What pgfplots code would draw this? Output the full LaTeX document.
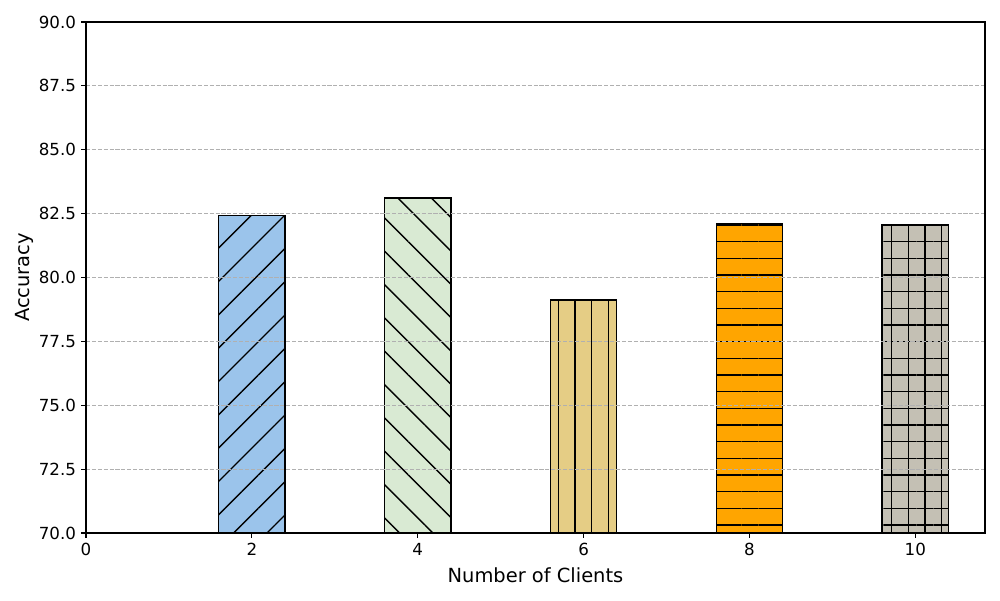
\documentclass[border=0pt]{standalone}
\usepackage{fontspec}
\setmainfont{DejaVu Sans}
\usepackage{pgfplots}
\pgfplotsset{compat=1.18}
\usetikzlibrary{patterns.meta}

\definecolor{cblue}{RGB}{155,196,235}
\definecolor{cgreen}{RGB}{217,234,211}
\definecolor{ctan}{RGB}{229,205,133}
\definecolor{corange}{RGB}{255,165,0}
\definecolor{cgrey}{RGB}{196,192,180}
\definecolor{cgrid}{HTML}{B0B0B0}

\begin{document}
\begin{tikzpicture}
\useasboundingbox (-61.92pt,-48.24pt) rectangle (658.08pt,383.76pt);
\begin{axis}[
  at={(0,0)}, anchor=south west,
  scale only axis, width=647.28pt, height=367.92pt,
  xmin=0, xmax=10.84, ymin=70, ymax=90,
  xtick={0,2,4,6,8,10},
  ytick={70,72.5,75,77.5,80,82.5,85,87.5,90},
  /pgf/number format/assume math mode=true,
  ymajorgrids,
  grid style={cgrid, line width=0.8pt, dash pattern=on 2.96pt off 1.28pt},
  axis on top,
  tick align=outside, tick pos=left,
  major tick length=3.5pt,
  every tick/.style={black, line width=0.8pt},
  axis line style={line width=0.8pt},
  tick label style={font=\fontsize{12}{14}\selectfont, inner sep=0pt},
  xticklabel style={yshift=-3.5pt},
  yticklabel style={xshift=-3.5pt, /pgf/number format/.cd, fixed, fixed zerofill, precision=1},
  xlabel={Number of Clients}, ylabel={Accuracy},
  every axis x label/.style={at={(axis description cs:0.5,0)}, anchor=center, yshift=-30.2pt, font=\fontsize{14}{17}\selectfont},
  every axis y label/.style={at={(axis description cs:0,0.5)}, xshift=-44.6pt, anchor=center, rotate=90, font=\fontsize{14}{17}\selectfont},
]
\addplot[ybar, bar width=0.8, bar shift=0, draw=black, line width=1pt, fill=cblue,
  postaction={pattern={Lines[angle=45,distance=16.97pt,line width=1pt]}, pattern color=black}]
  coordinates {(2,82.42)};
\addplot[ybar, bar width=0.8, bar shift=0, draw=black, line width=1pt, fill=cgreen,
  postaction={pattern={Lines[angle=-45,distance=16.97pt,line width=1pt]}, pattern color=black}]
  coordinates {(4,83.11)};
\addplot[ybar, bar width=0.8, bar shift=0, draw=black, line width=1pt, fill=ctan,
  postaction={pattern={Lines[angle=90,distance=12pt,xshift=6pt,line width=1pt]}, pattern color=black}]
  coordinates {(6,79.12)};
\addplot[ybar, bar width=0.8, bar shift=0, draw=black, line width=1pt, fill=corange,
  postaction={pattern={Lines[angle=0,distance=12pt,yshift=6pt,line width=1pt]}, pattern color=black}]
  coordinates {(8,82.12)};
\addplot[ybar, bar width=0.8, bar shift=0, draw=black, line width=1pt, fill=cgrey,
  postaction={pattern={Hatch[angle=0,distance=12pt,xshift=6pt,yshift=6pt,line width=1pt]}, pattern color=black}]
  coordinates {(10,82.05)};
\end{axis}
\end{tikzpicture}
\end{document}
